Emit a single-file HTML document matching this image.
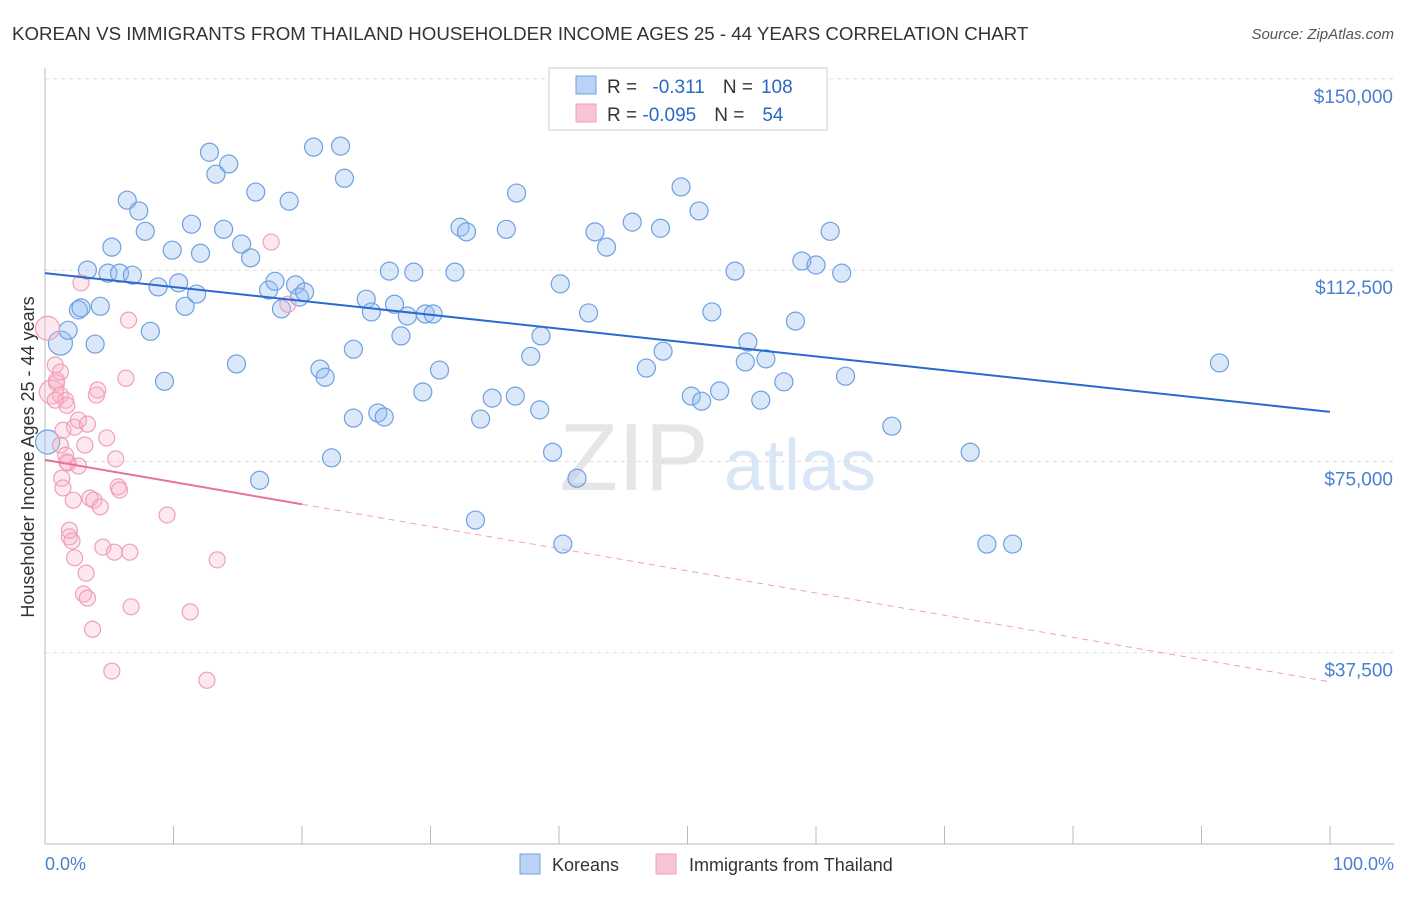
<!DOCTYPE html>
<html><head><meta charset="utf-8"><style>
body{margin:0;background:#fff;font-family:"Liberation Sans",sans-serif;}
svg text{font-family:"Liberation Sans",sans-serif;}
</style></head><body>
<svg id="c" width="1406" height="892" xmlns="http://www.w3.org/2000/svg">
<text x="12" y="40" font-size="18.7" fill="#333">KOREAN VS IMMIGRANTS FROM THAILAND HOUSEHOLDER INCOME AGES 25 - 44 YEARS CORRELATION CHART</text>
<text x="1394" y="39" font-size="15" fill="#555" text-anchor="end" font-style="italic">Source: ZipAtlas.com</text>
<text x="634" y="490" font-size="96" fill="#e6e6e6" font-family="Liberation Serif" text-anchor="middle">ZIP</text>
<text x="800" y="490" font-size="72" fill="#d8e6f6" text-anchor="middle">atlas</text>
<g id="grid"></g><g id="axes"></g><g id="pts"></g><g id="trend"></g>
<text transform="translate(34,457) rotate(-90)" font-size="18" fill="#333" text-anchor="middle">Householder Income Ages 25 - 44 years</text>
<text x="45" y="870" font-size="18" fill="#4a7fd0">0.0%</text>
<text x="1394" y="870" font-size="18" fill="#4a7fd0" text-anchor="end">100.0%</text>
<g>
<rect x="549" y="68" width="278" height="62" fill="#fff" stroke="#ccc"/>
<rect x="576" y="76" width="20" height="18" fill="#b8d3f5" stroke="#6fa0e0"/>
<rect x="576" y="104" width="20" height="18" fill="#f9c4d3" stroke="#f0a0b8"/>
<text x="607" y="93" font-size="19" fill="#333">R = <tspan fill="#2a68c8" dx="10">-0.311</tspan><tspan fill="#333" dx="18">N =</tspan><tspan fill="#2a68c8" dx="8">108</tspan></text>
<text x="607" y="121" font-size="19" fill="#333">R = <tspan fill="#2a68c8">-0.095</tspan><tspan fill="#333" dx="18">N =</tspan><tspan fill="#2a68c8" dx="18">54</tspan></text>
</g>
<g>
<rect x="520" y="854" width="20" height="20" fill="#b8d3f5" stroke="#6fa0e0"/>
<text x="552" y="871" font-size="18" fill="#333">Koreans</text>
<rect x="656" y="854" width="20" height="20" fill="#f9c4d3" stroke="#f0a0b8"/>
<text x="689" y="871" font-size="18" fill="#333">Immigrants from Thailand</text>
</g>
</svg>
<script>
const yTicks=[37500,75000,112500,150000];
const yTickLabels=["$37,500","$75,000","$112,500","$150,000"];
const xTicks=[0,10,20,30,40,50,60,70,80,90,100];
const koreaX=[0.2,1.2,1.8,3.3,2.6,2.8,4.3,3.9,5.2,4.9,5.8,6.8,6.4,7.3,7.8,8.2,8.8,9.3,9.9,10.4,10.9,11.4,11.8,12.1,12.8,13.3,13.9,14.3,14.9,15.3,16.0,16.4,16.7,17.4,17.9,18.4,19.0,19.5,19.8,20.2,20.9,21.4,21.8,22.3,23.0,23.3,24.0,24.0,25.0,25.4,25.9,26.4,26.8,27.2,27.7,28.2,28.7,29.6,30.2,30.7,29.4,31.9,32.3,32.8,33.9,33.5,34.8,35.9,36.6,36.7,37.8,38.5,38.6,39.5,40.1,40.3,41.4,42.3,42.8,43.7,45.7,46.8,47.9,48.1,49.5,50.3,50.9,51.1,51.9,52.5,53.7,54.5,54.7,55.7,56.1,57.5,58.4,58.9,60.0,61.1,62.0,62.3,65.9,72.0,73.3,75.3,91.4];
const koreaY=[78800,98200,100700,112500,104700,105100,105400,98000,117000,111900,111900,111500,126200,124100,120100,100500,109200,90700,116400,110000,105400,121500,107800,115800,135600,131300,120500,133300,94100,117600,114900,127800,71300,108600,110300,104900,126000,109600,107200,108200,136600,93100,91500,75700,136800,130500,97000,83500,106800,104300,84500,83700,112300,105800,99600,103500,112100,103900,103900,92900,88600,112100,120900,120000,83300,63500,87400,120500,87800,127600,95600,85100,99600,76800,109800,58800,71700,104100,120000,117000,121900,93300,120700,96600,128800,87800,124100,86800,104300,88800,112300,94500,98400,87000,95100,90600,102500,114300,113500,120100,111900,91700,81900,76800,58800,58800,94300];
const thaiX=[0.2,0.5,0.8,0.9,1.2,1.2,1.3,1.4,1.6,1.7,1.7,1.8,1.9,2.1,2.2,2.3,2.3,2.6,2.6,2.8,3.0,3.2,3.3,3.3,3.5,3.7,3.8,4.0,4.1,4.3,4.5,4.8,5.2,5.4,5.5,5.7,5.8,6.3,6.5,6.6,6.7,9.5,11.3,12.6,13.4,17.6,18.9,0.9,1.2,1.4,3.1,0.8,1.9,1.6];
const thaiY=[101100,88600,93900,90400,88000,78200,71700,69800,87000,86000,74900,74700,60200,59400,67400,56100,81700,83100,74100,110000,49000,53100,82300,48200,67800,42100,67400,88000,89000,66100,58200,79600,33900,57200,75500,70000,69400,91300,102700,57200,46500,64500,45500,32100,55700,118000,105800,90900,92500,81100,78200,87000,61500,76200];
const koreaTrend=[111900,84700];
const thaiTrend=[75300,31800];
const thaiSolidEnd=20;
const X0=45,X1=1330,Y0=844,PER=191.3/37500;
const sx=p=>X0+(X1-X0)*p/100, sy=v=>Y0-v*PER;
const NS="http://www.w3.org/2000/svg";
function mk(t,a,parent){const e=document.createElementNS(NS,t);for(const k in a)e.setAttribute(k,a[k]);document.getElementById(parent).appendChild(e);return e;}
yTicks.forEach((v,i)=>{
 const l=mk('line',{x1:X0,x2:1394,y1:sy(v),y2:sy(v),stroke:'#ddd','stroke-dasharray':'4,4'},'grid');
 
 
 const t=mk('text',{x:1393,y:sy(v)+24,'font-size':19,fill:'#4a7fd0','text-anchor':'end'},'grid');
 t.textContent=yTickLabels[i];
 
 
});
const ya=mk('line',{x1:X0,x2:X0,y1:68,y2:Y0,stroke:'#bbb'},'axes');


const xa=mk('line',{x1:X0,x2:1394,y1:Y0,y2:Y0,stroke:'#bbb'},'axes');


xTicks.forEach(p=>{const t=mk('line',{x1:sx(p),x2:sx(p),y1:Y0,y2:Y0-18,stroke:'#bbb'},'axes');
 
 });
koreaX.forEach((x,i)=>{const big=i<2;const c=mk('circle',{cx:sx(x),cy:sy(koreaY[i]),r:big?12:9,fill:'rgba(150,190,240,0.35)',stroke:'#6fa0e0','stroke-width':1.2},'pts');
 
 });
thaiX.forEach((x,i)=>{const big=i<2;const c=mk('circle',{cx:sx(x),cy:sy(thaiY[i]),r:big?12:8,fill:'rgba(248,180,200,0.3)',stroke:'#f0a0b8','stroke-width':1.2},'pts');
 
 });
const kt=mk('line',{x1:sx(0),y1:sy(koreaTrend[0]),x2:sx(100),y2:sy(koreaTrend[1]),stroke:'#2a6ad0','stroke-width':2},'trend');


const ty=p=>thaiTrend[0]+(thaiTrend[1]-thaiTrend[0])*p/100;
const ts=mk('line',{x1:sx(0),y1:sy(ty(0)),x2:sx(thaiSolidEnd),y2:sy(ty(thaiSolidEnd)),stroke:'#e8709a','stroke-width':2},'trend');


const td=mk('line',{x1:sx(thaiSolidEnd),y1:sy(ty(thaiSolidEnd)),x2:sx(100),y2:sy(ty(100)),stroke:'#f0a0b8','stroke-width':1,'stroke-dasharray':'6,5'},'trend');


</script>
</body></html>
